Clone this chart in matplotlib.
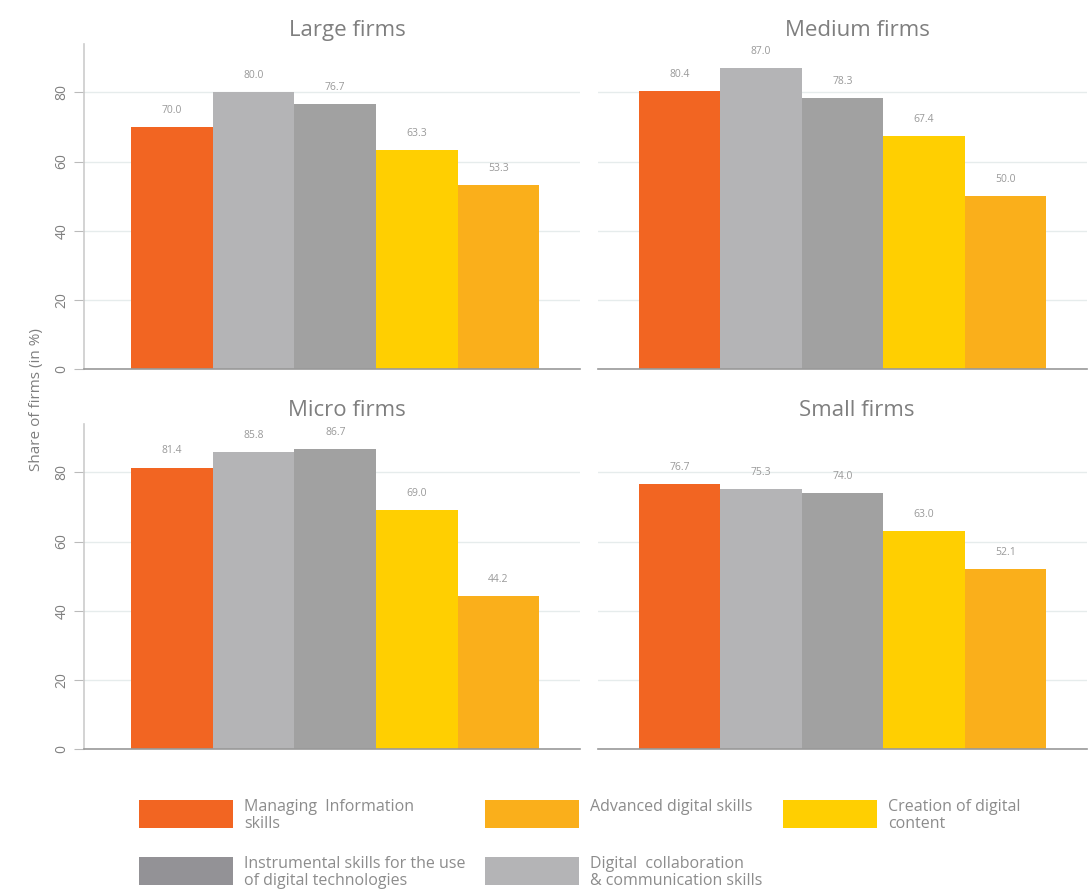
import matplotlib.pyplot as plt
from matplotlib.patches import Rectangle

# Data
panels = ["Large firms", "Medium firms", "Micro firms", "Small firms"]
skills = [
    "Managing  Information\nskills",
    "Digital  collaboration\n& communication skills",
    "Instrumental skills for the use\nof digital technologies",
    "Creation of digital\ncontent",
    "Advanced digital skills",
]
values = {
    "Large firms": [70.0, 80.0, 76.7, 63.3, 53.3],
    "Medium firms": [80.4, 87.0, 78.3, 67.4, 50.0],
    "Micro firms": [81.4, 85.8, 86.7, 69.0, 44.2],
    "Small firms": [76.7, 75.3, 74.0, 63.0, 52.1],
}
bar_colors = ["#F26522", "#B4B4B6", "#A1A1A1", "#FFCF01", "#FAAF1B"]
legend_colors = ["#F26522", "#B4B4B6", "#939296", "#FFCF01", "#FAAF1B"]
yticks = [0, 20, 40, 60, 80]

plt.rcParams['font.family'] = ['Open Sans', 'DejaVu Sans']
TEXT = "#7f7f7f"

fig = plt.figure(figsize=(10.9, 8.91), dpi=100)
W, H = 1090, 891

# axes boxes in pixels (left, top, right, bottom)
boxes = [(84, 44, 580, 369), (598, 44, 1087, 369),
         (84, 424, 580, 749), (598, 424, 1087, 749)]

for i, (name, (l, t, r, b)) in enumerate(zip(panels, boxes)):
    ax = fig.add_axes([l / W, 1 - b / H, (r - l) / W, (b - t) / H])
    x = list(range(len(skills)))
    bars = ax.bar(x, values[name], width=1.0, color=bar_colors, zorder=2)
    for rect, v in zip(bars, values[name]):
        ax.annotate(f"{v:.1f}", (rect.get_x() + rect.get_width() / 2, v),
                    xytext=(0, 8), textcoords="offset points",
                    ha="center", va="bottom", fontsize=7.5, color="#999999")
    ax.set_ylim(0, 94)
    ax.set_xlim(-1.08 if i % 2 == 0 else -1.0, 5.0)
    ax.set_xticks([])
    ax.set_yticks(yticks)
    ax.grid(axis="y", color="#e6ecec", linewidth=1, zorder=0)
    ax.set_title(name, fontsize=16, color=TEXT, x=0.53, pad=6)
    for s in ["top", "right"]:
        ax.spines[s].set_visible(False)
    ax.spines["bottom"].set_color("#999999")
    ax.spines["bottom"].set_linewidth(1.2)
    if i % 2 == 0:
        ax.spines["left"].set_color("#cccccc")
        ax.spines["left"].set_linewidth(1.2)
        ax.tick_params(axis="y", length=7, color="#bbbbbb", labelcolor=TEXT,
                       labelsize=10, labelrotation=90)
        for lab in ax.get_yticklabels():
            lab.set_va("center")
    else:
        ax.spines["left"].set_visible(False)
        ax.tick_params(axis="y", length=0, labelleft=False)

fig.text(37 / W, 1 - 400 / H, "Share of firms (in %)", rotation=90,
         ha="center", va="center", fontsize=11, color=TEXT)

# legend laid out in a 3 x 2 grid
legend_order = [0, 4, 3, 2, 1]
col_x = [139, 485, 783]
row_y = [800, 857]
pw, ph = 94, 28
for k, idx in enumerate(legend_order):
    col, row = k % 3, k // 3
    px, py = col_x[col], row_y[row]
    fig.add_artist(Rectangle((px / W, 1 - (py + ph) / H), pw / W, ph / H,
                             transform=fig.transFigure,
                             color=legend_colors[idx], lw=0))
    fig.text((px + pw + 11) / W, 1 - (py - 1) / H, skills[idx],
             ha="left", va="top", fontsize=11.5, color="#8c8c8c",
             linespacing=1.1)

fig.savefig("out.png", dpi=100)
